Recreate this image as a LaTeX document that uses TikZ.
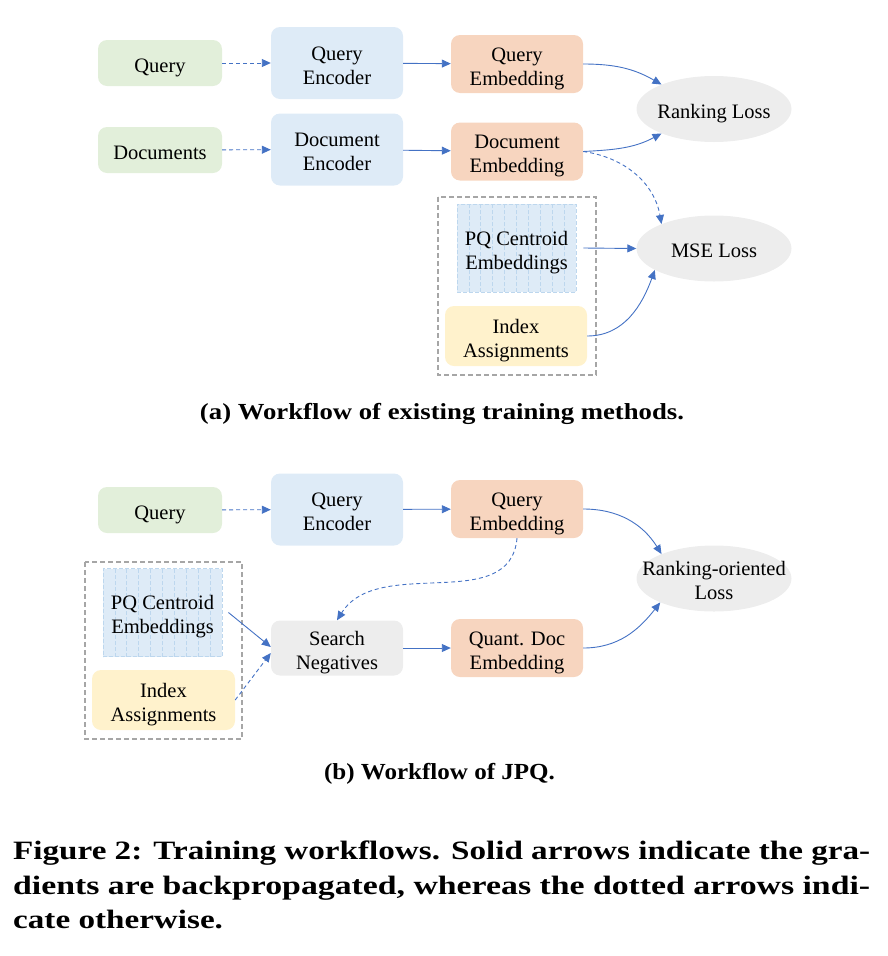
\documentclass[tikz,border=0pt]{standalone}
\usepackage{fontspec}
\setmainfont{Liberation Serif}
\usetikzlibrary{arrows.meta,shapes.geometric}
\definecolor{cgreen}{HTML}{E2EFDA}
\definecolor{cblue}{HTML}{DEEBF7}
\definecolor{corange}{HTML}{F7D5BF}
\definecolor{cyellow}{HTML}{FFF2CC}
\definecolor{cgray}{HTML}{EDEDED}
\definecolor{carrow}{HTML}{4472C4}
\definecolor{cdash}{HTML}{A6A6A6}
\definecolor{cstripe}{HTML}{BDD7EE}
\newlength\capw
\newcommand\diagfont{\fontsize{20.5}{24}\selectfont}
\newcommand\subcapfont{\fontsize{23}{27}\selectfont\bfseries}
\newcommand\figcapfont{\fontsize{26.5}{31}\selectfont\bfseries}
% label of fixed (zero) size, centred on the node, slightly lowered
\newcommand\lbl[1]{\raisebox{-9.5pt}[0pt][0pt]{\makebox[0pt]{\begin{tabular}{@{}c@{}}#1\end{tabular}}}}
\begin{document}
\settowidth\capw{\figcapfont Figure 2: Training workflows. Solid arrows indicate the gra-}%
\pgfmathsetmacro\capscale{857/\capw}%
\begin{tikzpicture}[x=1pt,y=-1pt,
  box/.style={rounded corners=9pt, inner sep=0pt, font=\diagfont},
  inbox/.style={box, fill=cgreen, minimum width=124pt, minimum height=46pt},
  encbox/.style={box, fill=cblue, minimum width=132pt, minimum height=72pt},
  embbox/.style={box, fill=corange, minimum width=132pt, minimum height=58pt},
  negbox/.style={box, fill=cgray, minimum width=132pt, minimum height=55pt},
  idxbox/.style={box, fill=cyellow, minimum width=142pt, minimum height=60pt},
  pqbox/.style={inner sep=0pt, font=\diagfont, fill=cblue,
    draw=cstripe, line width=0.9pt, dash pattern=on 4pt off 2pt,
    minimum width=119pt, minimum height=88pt,
    path picture={\foreach \i in {1,...,9}{\draw[cstripe, line width=0.8pt, dash pattern=on 4pt off 2pt]
      ([xshift=\i*11.9pt]path picture bounding box.south west) --
      ([xshift=\i*11.9pt]path picture bounding box.north west);}}},
  lossell/.style={ellipse, fill=cgray, inner sep=0pt, font=\diagfont,
    minimum width=155pt, minimum height=66pt},
  groupbox/.style={draw=cdash, line width=1.1pt, dash pattern=on 5pt off 3pt},
  arr/.style={draw=carrow, line width=0.9pt, -{Triangle[length=9pt,width=8pt]}},
  dsh/.style={dash pattern=on 4pt off 3pt}
]
\useasboundingbox (0,0) rectangle (888,956);

% ---------- (a) ----------
\node[inbox] (qa) at (160,63) {\lbl{Query}};
\node[encbox] (qea) at (337,63) {\lbl{Query\\Encoder}};
\node[embbox] (qma) at (517,64) {\lbl{Query\\Embedding}};
\node[inbox] (da) at (160,150) {\lbl{Documents}};
\node[encbox] (dea) at (337,149.5) {\lbl{Document\\Encoder}};
\node[embbox] (dma) at (517,151.5) {\lbl{Document\\Embedding}};
\node[lossell] (rl) at (714,109) {\lbl{Ranking Loss}};
\node[lossell] (mse) at (714,248.5) {\lbl{MSE Loss}};
\draw[groupbox] (438,197) rectangle (596,375);
\node[pqbox] (pqa) at (516.5,248) {\lbl{PQ Centroid\\Embeddings}};
\node[idxbox] (ia) at (516,336) {\lbl{Index\\Assignments}};

\draw[arr,dsh] (qa) -- (qea);
\draw[arr] (qea) -- (qma);
\draw[arr,dsh] (da) -- (dea);
\draw[arr] (dea) -- (dma);
\draw[arr] (qma.east) to[out=0,in=150] (rl.155);
\draw[arr] (dma.east) to[out=3,in=208] (rl.205);
\draw[arr,dsh] (dma.east) to[out=-8,in=100] (mse.155);
\draw[arr] ([xshift=7pt]pqa.east) -- (mse.west);
\draw[arr] (ia.east) to[out=0,in=250] (mse.200);

\node[anchor=base] (capa) at (442,419) {\resizebox{484pt}{\height}{\subcapfont (a) Workflow of existing training methods.}};

% ---------- (b) ----------
\node[inbox] (qb) at (160,510) {\lbl{Query}};
\node[encbox] (qeb) at (337,509.5) {\lbl{Query\\Encoder}};
\node[embbox] (qmb) at (517,509) {\lbl{Query\\Embedding}};
\node[lossell] (rol) at (714,578.5) {\lbl{Ranking-oriented\\Loss}};
\draw[groupbox] (85,562) rectangle (242,739);
\node[pqbox] (pqb) at (162.5,612.5) {\lbl{PQ Centroid\\Embeddings}};
\node[idxbox, minimum width=143pt] (ib) at (163.5,700) {\lbl{Index\\Assignments}};
\node[negbox] (snb) at (337,648) {\lbl{Search\\Negatives}};
\node[embbox] (qdb) at (517,648) {\lbl{Quant. Doc\\Embedding}};

\draw[arr,dsh] (qb) -- (qeb);
\draw[arr] (qeb) -- (qmb);
\draw[arr] (snb) -- (qdb);
\draw[arr] (qmb.east) to[out=0,in=122] (rol.155);
\draw[arr] (qdb.east) to[out=0,in=232] (rol.204);
\draw[arr,dsh] (qmb.south) to[out=-95,in=58] (snb.north);
\draw[arr] ([xshift=6pt]pqb.east) -- ([yshift=1pt]snb.west);
\draw[arr,dsh] (ib.east) -- ([yshift=-5pt]snb.west);

\node[anchor=base] (capb) at (439.5,779) {\resizebox{231pt}{\height}{\subcapfont (b) Workflow of JPQ.}};

% ---------- figure caption ----------
\node[anchor=base west, inner sep=0pt] (cap1) at (13,859) {\resizebox{857pt}{\height}{\figcapfont Figure 2: Training workflows. Solid arrows indicate the gra-}};
\node[anchor=base west, inner sep=0pt] (cap2) at (13,894) {\resizebox{857pt}{\height}{\figcapfont dients are backpropagated, whereas the dotted arrows indi-}};
\node[anchor=base west, inner sep=0pt] (cap3) at (13,928) {\scalebox{\capscale}[1]{\figcapfont cate otherwise.}};
\end{tikzpicture}
\end{document}
